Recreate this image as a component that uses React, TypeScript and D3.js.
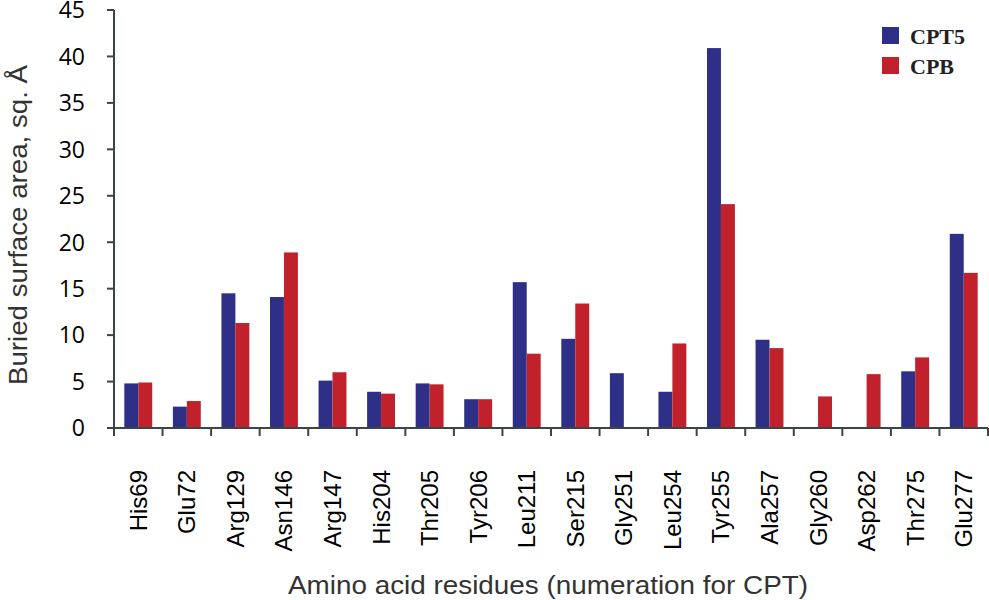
import React from "react";
import * as d3 from "d3";

const residues = ["His69","Glu72","Arg129","Asn146","Arg147","His204","Thr205","Tyr206","Leu211","Ser215","Gly251","Leu254","Tyr255","Ala257","Gly260","Asp262","Thr275","Glu277"];
const cpt5 = [4.8,2.3,14.5,14.1,5.1,3.9,4.8,3.1,15.7,9.6,5.9,3.9,40.9,9.5,0,0,6.1,20.9];
const cpb = [4.9,2.9,11.3,18.9,6.0,3.7,4.7,3.1,8.0,13.4,0,9.1,24.1,8.6,3.4,5.8,7.6,16.7];
const yTicks = [0,5,10,15,20,25,30,35,40,45];
const seriesNames = ["CPT5","CPB"];
const seriesColors = ["#2E3087","#C1212B"];

export default function App() {
  const W = 989, H = 600;
  const left = 114, right = 988, top = 10, bottom = 428;
  const x = d3.scaleBand<string>().domain(residues).range([left, right]).paddingInner(0).paddingOuter(0);
  const y = d3.scaleLinear().domain([0, 45]).range([bottom, top]);
  const bw = x.bandwidth();
  const sub = d3.scaleBand<string>().domain(seriesNames).range([0, bw]).paddingInner(0).paddingOuter(0.74);
  const series = [cpt5, cpb];
  const axisColor = "#3b4546";
  const boundaries = d3.range(residues.length + 1).map(i => left + i * bw);
  return (
    <svg width={W} height={H} style={{ position: "absolute", left: 0, top: 0, background: "#fff" }}>
      {series.map((vals, si) =>
        vals.map((v, i) => v > 0 ? (
          <rect key={`${si}-${i}`} x={(x(residues[i]) ?? 0) + (sub(seriesNames[si]) ?? 0)} y={y(v)}
            width={sub.bandwidth()} height={y(0) - y(v)} fill={seriesColors[si]} />
        ) : null)
      )}
      <line x1={left} x2={left} y1={top} y2={bottom + 8} stroke={axisColor} strokeWidth={2} />
      <line x1={left} x2={right} y1={bottom} y2={bottom} stroke={axisColor} strokeWidth={2} />
      {yTicks.map(t => (
        <g key={t}>
          <line x1={left - 7} x2={left} y1={y(t)} y2={y(t)} stroke={axisColor} strokeWidth={2} />
          <text x={85} y={y(t)} dy="0.36em" textAnchor="end" fontFamily="Open Sans, sans-serif" fontSize={23} fill="#000">{t}</text>
        </g>
      ))}
      {boundaries.map((b, i) => (
        <line key={i} x1={b} x2={b} y1={bottom} y2={bottom + 8} stroke={axisColor} strokeWidth={2} />
      ))}
      {residues.map(r => {
        const cx = (x(r) ?? 0) + bw / 2;
        return (
          <text key={r} transform={`translate(${cx + 8.5},470) rotate(-90)`} textAnchor="end"
            fontFamily="Liberation Sans, Arial, sans-serif" fontSize={24} fill="#000">{r}</text>
        );
      })}
      <text transform={`translate(27,225) rotate(-90)`} textAnchor="middle" textLength={320} lengthAdjust="spacingAndGlyphs"
        fontFamily="Liberation Sans, Arial, sans-serif" fontSize={26} fill="#333">Buried surface area, sq. Å</text>
      <text x={548} y={594} textAnchor="middle" textLength={520} lengthAdjust="spacingAndGlyphs"
        fontFamily="Liberation Sans, Arial, sans-serif" fontSize={26} fill="#333">Amino acid residues (numeration for CPT)</text>
      {seriesNames.map((n, i) => (
        <g key={n}>
          <rect x={882} y={27 + i * 30} width={17} height={17} fill={seriesColors[i]} />
          <text x={910} y={44 + i * 30} fontFamily="Liberation Serif, Times New Roman, serif" fontWeight="bold" fontSize={22} fill="#222">{n}</text>
        </g>
      ))}
    </svg>
  );
}
